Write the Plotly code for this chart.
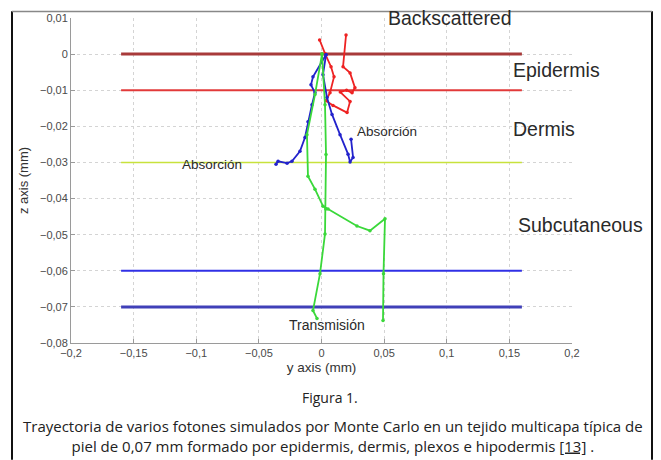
import plotly.graph_objects as go

# ---- data ----
x_ticks = [-0.2, -0.15, -0.1, -0.05, 0, 0.05, 0.1, 0.15, 0.2]
x_ticklabels = ["\u22120,2", "\u22120,15", "\u22120,1", "\u22120,05", "0", "0,05", "0,1", "0,15", "0,2"]
y_ticks = [0.01, 0, -0.01, -0.02, -0.03, -0.04, -0.05, -0.06, -0.07, -0.08]
y_ticklabels = ["0,01", "0", "\u22120,01", "\u22120,02", "\u22120,03", "\u22120,04",
                "\u22120,05", "\u22120,06", "\u22120,07", "\u22120,08"]

layer_depths = [0, -0.01, -0.03, -0.06, -0.07]
layer_colors = ["#a83a3a", "#e23a3a", "#c8e23c", "#3030e6", "#4040b8"]
layer_widths = [3, 2, 1.6, 2, 3]
layer_x = [-0.16, 0.16]

red_x = [0.003, 0.0076, 0.010, 0.0068, 0.0036, 0.0092, 0.0204, 0.0228, 0.015, 0.020, 0.0244, 0.0267, 0.0228, 0.0172, 0.0196]
red_y = [0.0, -0.0035, -0.0063, -0.0107, -0.0129, -0.0142, -0.0162, -0.0131, -0.0105, -0.0100, -0.0107, -0.0093, -0.0052, -0.0035, 0.0053]
red2_x = [0.003, -0.0015]
red2_y = [0.0, 0.0039]

blue_a_x = [0.0036, -0.0068, -0.0084, -0.0052, -0.0076, -0.0108, -0.0132, -0.0172, -0.0236, -0.0275, -0.0347, -0.0363]
blue_a_y = [-0.0002, -0.0063, -0.0085, -0.0107, -0.014, -0.0187, -0.0231, -0.0269, -0.0297, -0.0302, -0.0297, -0.0305]
blue_b_x = [0.0036, 0.0012, 0.0044, 0.0084, 0.0148, 0.0212, 0.0228, 0.0252, 0.0236]
blue_b_y = [-0.0002, -0.0057, -0.012, -0.0167, -0.0223, -0.0277, -0.0299, -0.0286, -0.0236]

green_a_x = [0.0004, -0.0052, -0.0116, -0.0108, -0.0052, 0.0012, 0.0052, 0.0283, 0.0387, 0.0507, 0.0495, 0.0491]
green_a_y = [0.0, -0.0112, -0.0223, -0.0338, -0.0374, -0.0421, -0.0429, -0.0476, -0.0489, -0.0456, -0.0608, -0.0738]
green_b_x = [0.0004, 0.0028, 0.0036, 0.0034, 0.0028, -0.0012, -0.0068, -0.0036]
green_b_y = [0.0, -0.014, -0.0278, -0.0429, -0.0498, -0.0608, -0.071, -0.0732]

region_labels = ["Backscattered", "Epidermis", "Dermis", "Subcutaneous"]
region_x = [0.0514, 0.151, 0.151, 0.1555]
region_y = [0.0099, -0.0044, -0.0208, -0.0473]

note_labels = ["Absorci\u00f3n", "Absorci\u00f3n", "Transmisi\u00f3n"]
note_x = [-0.1128, 0.0267, 0.0044]
note_y = [-0.0306, -0.0214, -0.0751]

fig_title = "Figura 1."
caption = ("Trayectoria de varios fotones simulados por Monte Carlo en un tejido multicapa t\u00edpica de<br>"
           "piel de 0,07 mm formado por epidermis, dermis, plexos e hipodermis <u>[13]</u> .")

# ---- figure ----
TOP, BOT, LEFT, RIGHT = 12, 343, 71, 572

fig = go.Figure()

for d, c, w in zip(layer_depths, layer_colors, layer_widths):
    fig.add_trace(go.Scatter(x=layer_x, y=[d, d], mode="lines",
                             line=dict(color=c, width=w), hoverinfo="skip"))

def traj(xs, ys, color):
    fig.add_trace(go.Scatter(x=xs, y=ys, mode="lines+markers",
                             line=dict(color=color, width=1.8),
                             marker=dict(color=color, size=3.5)))

traj(red_x, red_y, "#ee2222")
traj(red2_x, red2_y, "#ee2222")
traj(blue_a_x, blue_a_y, "#2222cc")
traj(blue_b_x, blue_b_y, "#2222cc")
traj(green_a_x, green_a_y, "#3ad83a")
traj(green_b_x, green_b_y, "#3ad83a")

for t, x, y in zip(region_labels, region_x, region_y):
    fig.add_annotation(x=x, y=y, text=t, showarrow=False, xanchor="left", yanchor="middle",
                       font=dict(family="Liberation Sans", size=19.5, color="#2a2a2a"))

for i, (t, x, y) in enumerate(zip(note_labels, note_x, note_y)):
    fig.add_annotation(x=x, y=y, text=t, showarrow=False,
                       xanchor="center" if i == 2 else "left", yanchor="middle",
                       font=dict(family="Liberation Sans", size=14 if i == 2 else 13.5, color="#2a2a2a"))

def px_x(p):
    return (p - LEFT) / (RIGHT - LEFT)

def px_y(p):
    return (BOT - p) / (BOT - TOP)

# caption texts
fig.add_annotation(xref="paper", yref="paper", x=px_x(330), y=px_y(398),
                   text=fig_title, showarrow=False, xanchor="center", yanchor="middle",
                   font=dict(family="Open Sans", size=14, color="#222"))
fig.add_annotation(xref="paper", yref="paper", x=px_x(333), y=px_y(437.5),
                   text=caption, showarrow=False, xanchor="center", yanchor="middle",
                   align="center",
                   font=dict(family="Open Sans", size=15, color="#222"))

# frame
fig.add_shape(type="line", xref="paper", yref="paper", x0=px_x(12), x1=px_x(12),
              y0=px_y(5), y1=px_y(462), line=dict(color="#111", width=2))
fig.add_shape(type="line", xref="paper", yref="paper", x0=px_x(652), x1=px_x(652),
              y0=px_y(5), y1=px_y(462), line=dict(color="#111", width=2))
fig.add_shape(type="line", xref="paper", yref="paper", x0=px_x(12), x1=px_x(652),
              y0=px_y(5.5), y1=px_y(5.5), line=dict(color="#888", width=1.5))

fig.update_xaxes(range=[-0.2, 0.2], tickvals=x_ticks, ticktext=x_ticklabels,
                 showgrid=True, gridcolor="#d4d4d4", griddash="dot", gridwidth=1,
                 zeroline=False, showline=True, linecolor="#9a9a9a", linewidth=1,
                 ticks="inside", ticklen=4, tickcolor="#9a9a9a",
                 tickfont=dict(family="Liberation Sans", size=11, color="#4a4a4a"),
                 title=dict(text="y axis (mm)", standoff=4,
                            font=dict(family="Liberation Sans", size=13.5, color="#333")))
fig.update_yaxes(range=[-0.08, 0.01], tickvals=y_ticks, ticktext=y_ticklabels,
                 showgrid=True, gridcolor="#d4d4d4", griddash="dot", gridwidth=1,
                 zeroline=False, showline=True, linecolor="#9a9a9a", linewidth=1,
                 ticks="inside", ticklen=4, tickcolor="#9a9a9a",
                 tickfont=dict(family="Liberation Sans", size=11, color="#4a4a4a"),
                 title=dict(text="z axis (mm)", standoff=8,
                            font=dict(family="Liberation Sans", size=13, color="#333")))

fig.update_layout(width=661, height=460, autosize=False,
                  margin=dict(l=LEFT, r=661 - RIGHT, t=TOP, b=460 - BOT),
                  paper_bgcolor="white", plot_bgcolor="white",
                  showlegend=False)

fig.write_html("out.html")
